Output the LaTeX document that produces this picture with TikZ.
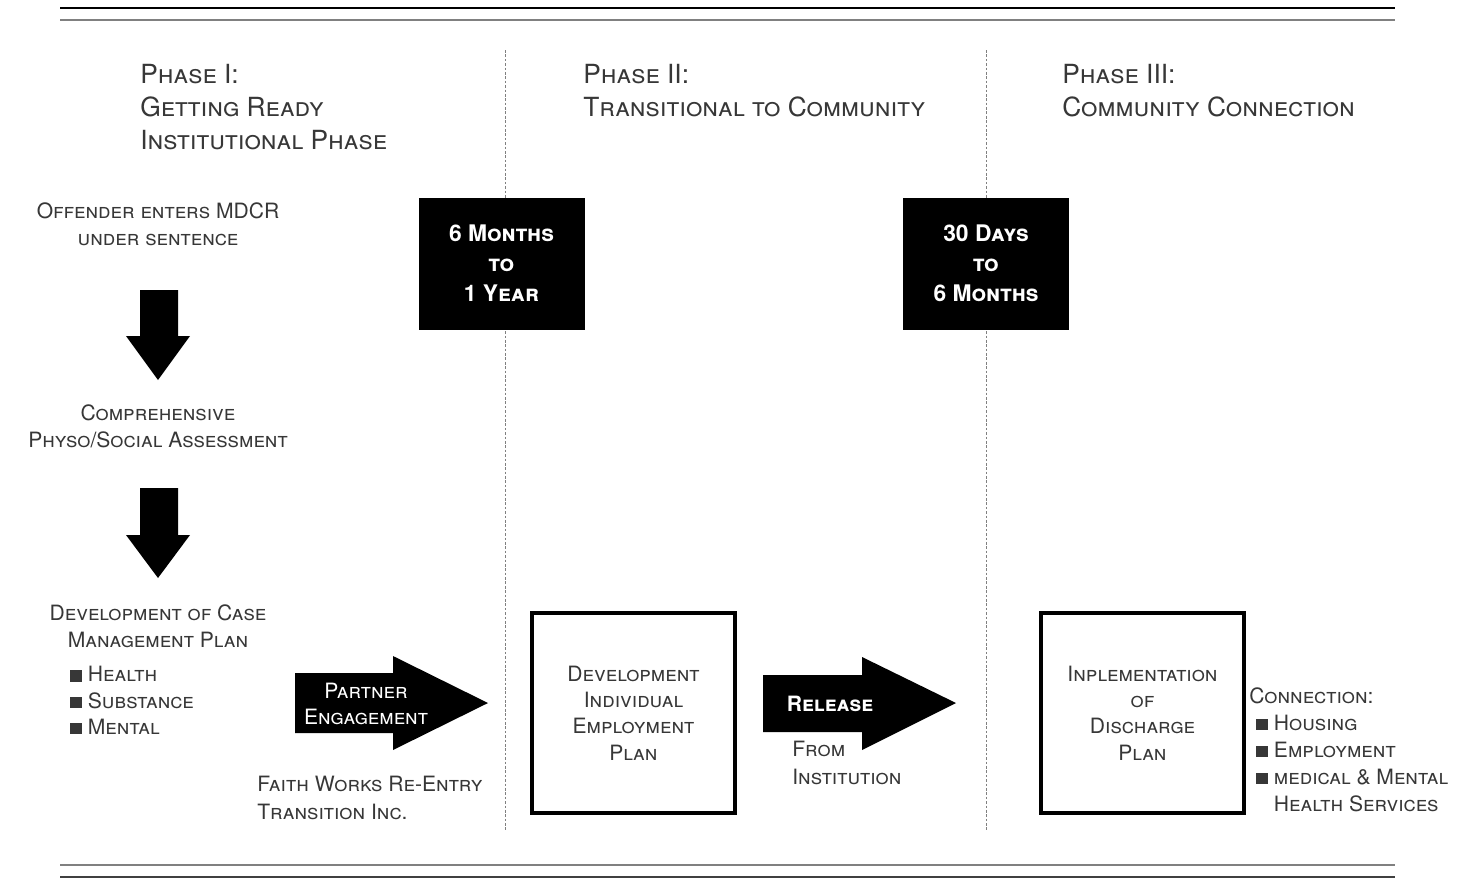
\documentclass[tikz,border=0pt]{standalone}
\usepackage{fontspec}
\setmainfont{TeX Gyre Heros}
\usepackage{tikz}
\definecolor{inkgray}{RGB}{55,55,55}
\newcommand{\sqbul}{\rule{6.5pt}{6.5pt}\hspace{3.5pt}}

\begin{document}
\begin{tikzpicture}[x=0.02cm, y=-0.02cm,
    phase/.style={anchor=north west, align=left, inner sep=0, text=inkgray,
        font=\fontsize{15}{18.7}\selectfont\scshape},
    txt/.style={align=center, inner sep=0, text=inkgray,
        font=\fontsize{12}{15.6}\selectfont\scshape},
    period/.style={draw, fill=black, text=white, align=center,
        minimum width=3.3cm, minimum height=2.62cm,
        font=\fontsize{13}{17}\selectfont\scshape\bfseries},
    planbox/.style={draw, line width=2.2pt, minimum width=4.06cm, minimum height=4cm,
        align=center, text=inkgray, font=\fontsize{12}{15}\selectfont\scshape},
    divider/.style={gray, line width=0.4pt, dash pattern=on 1.5pt off 1pt}]
    \useasboundingbox (0,0) rectangle (1479,879);
    % rules top and bottom
    \draw[line width=1.3pt] (60,8) -- (1395,8);
    \draw[gray, line width=0.9pt] (60,20) -- (1395,20);
    \draw[gray, line width=0.9pt] (60,865) -- (1395,865);
    \draw[black!75, line width=1.3pt] (60,877) -- (1395,877);
    % phase dividers
    \draw[divider] (505,50) -- (505,830);
    \draw[divider] (986,50) -- (986,830);
    % headings
    \node[phase] (ph1) at (140,64) {Phase I:\\Getting Ready\\Institutional Phase};
    \node[phase] (ph2) at (583,64) {Phase II:\\Transitional to Community};
    \node[phase] (ph3) at (1062,64) {Phase III:\\Community Connection};
    % phase I column
    \node[txt, anchor=north] (enter) at (158,202) {Offender enters MDCR\\under sentence};
    \node[txt, anchor=north] (assess) at (158,404) {Comprehensive\\Physo/Social Assessment};
    \node[txt, anchor=north] (casemgmt) at (158,604) {Development of Case\\Management Plan};
    \node[txt, anchor=north west, align=left, font=\fontsize{12}{15}\selectfont\scshape] (areas) at (70,666)
        {\sqbul Health\\\sqbul Substance\\\sqbul Mental};
    \fill (140,290) -- (178,290) -- (178,336) -- (190,336) -- (158,380) -- (126,336) -- (140,336) -- cycle;
    \fill (140,488) -- (178,488) -- (178,535) -- (190,535) -- (158,578) -- (126,535) -- (140,535) -- cycle;
    % partner engagement
    \fill (295,673) -- (393,673) -- (393,656) -- (488,703) -- (393,750) -- (393,733) -- (295,733) -- cycle;
    \node[txt, text=white, font=\fontsize{12}{15}\selectfont\scshape] (partner) at (366,704) {Partner\\Engagement};
    \node[txt, anchor=north west, align=left] (faith) at (257,776) {Faith Works Re-Entry\\Transition Inc.};
    % time periods
    \node[period] (six) at (501.5,263.5) {6 Months\\to\\1 Year};
    \node[period] (thirty) at (986,263.5) {30 Days\\to\\6 Months};
    % phase II and III plans
    \node[planbox] (iep) at (633.5,713) {Development\\Individual\\Employment\\Plan};
    \fill (763,675) -- (862,675) -- (862,657) -- (956,703) -- (862,750) -- (862,732) -- (763,732) -- cycle;
    \node[txt, text=white, font=\fontsize{12}{15}\selectfont\scshape\bfseries] (release) at (830,704) {Release};
    \node[txt, anchor=north west, align=left] (frominst) at (792,741) {From\\Institution};
    \node[planbox] (discharge) at (1142.5,713) {Inplementation\\of\\Discharge\\Plan};
    \node[txt, anchor=north west, align=left, font=\fontsize{12}{15.4}\selectfont\scshape] (connect) at (1249,687)
        {Connection:\\\hspace{4pt}\sqbul Housing\\\hspace{4pt}\sqbul Employment\\\hspace{4pt}\sqbul medical \& Mental\\\hspace{4pt}\phantom{\sqbul}Health Services};
\end{tikzpicture}
\end{document}
